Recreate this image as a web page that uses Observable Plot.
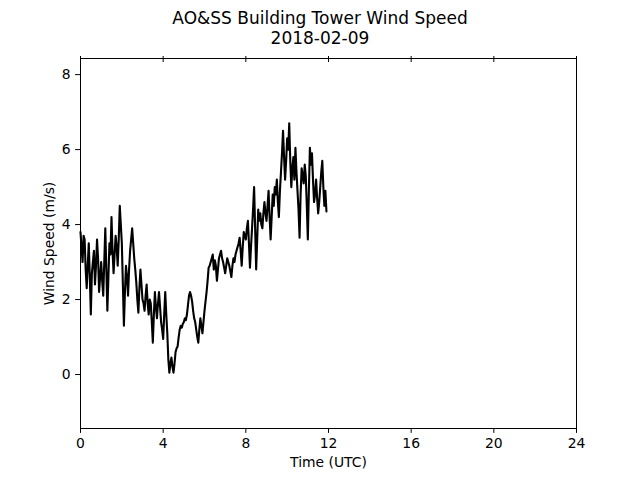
<!DOCTYPE html>
<html>
<head>
<meta charset="utf-8">
<script src="https://cdn.jsdelivr.net/npm/d3@7"></script>
<script src="https://cdn.jsdelivr.net/npm/@observablehq/plot@0.6"></script>
<style>
  html, body { margin: 0; padding: 0; background: #fff; }
  #title { width: 640px; height: 48px; font-family: "DejaVu Sans", sans-serif; font-size: 17px; text-align: center; line-height: 20px; padding-top: 8px; box-sizing: border-box; color: #000; }
  svg { display: block; }
</style>
</head>
<body>
<div id="title">AO&amp;SS Building Tower Wind Speed<br>2018-02-09</div>
<div id="chart"></div>
<script>
const titleLines = ["AO&SS Building Tower Wind Speed", "2018-02-09"];
const xLabel = "Time (UTC)";
const yLabel = "Wind Speed (m/s)";
const xTicks = [0, 4, 8, 12, 16, 20, 24];
const yTicks = [0, 2, 4, 6, 8];
const startHour = 0;
const stepHours = 0.05;
const windSpeed = [
  3.8, 3.4, 3.0, 3.7, 3.6, 2.8, 2.3, 2.9, 3.5, 2.6,
  1.6, 2.7, 3.0, 3.3, 2.4, 2.9, 3.6, 3.1, 2.2, 2.6,
  3.0, 2.5, 2.1, 3.0, 3.9, 2.8, 1.7, 2.6, 3.5, 3.2,
  4.2, 3.3, 2.7, 3.2, 3.7, 3.4, 2.9, 3.6, 4.5, 4.0,
  3.5, 2.4, 1.3, 2.2, 2.9, 2.6, 2.1, 2.8, 3.3, 3.6,
  3.9, 3.5, 3.1, 2.8, 2.45, 2.0, 1.65, 2.3, 2.8, 2.4,
  2.0, 1.9, 1.7, 2.1, 2.4, 1.9, 1.6, 2.0, 1.9, 1.4,
  0.85, 1.6, 2.2, 1.8, 1.5, 1.9, 2.2, 1.8, 1.4, 1.2,
  0.95, 1.6, 2.2, 1.6, 1.1, 0.4, 0.05, 0.3, 0.45, 0.2,
  0.05, 0.3, 0.6, 0.7, 0.75, 1.0, 1.2, 1.3, 1.25, 1.35,
  1.4, 1.5, 1.45, 1.6, 1.85, 2.1, 2.2, 2.1, 1.95, 1.7,
  1.5, 1.4, 1.2, 1.0, 0.85, 1.2, 1.5, 1.3, 1.1, 1.4,
  1.7, 1.95, 2.2, 2.5, 2.85, 2.9, 3.0, 3.1, 3.2, 2.8,
  3.05, 2.9, 2.5, 2.8, 3.1, 3.2, 3.3, 3.1, 3.0, 2.85,
  2.7, 2.9, 3.1, 3.0, 2.9, 2.75, 2.6, 2.9, 3.1, 3.0,
  3.2, 3.3, 3.4, 3.5, 3.65, 3.3, 2.9, 3.4, 3.8, 3.7,
  3.6, 3.9, 4.1, 3.5, 2.85, 3.4, 3.9, 4.4, 5.0, 3.9,
  2.8, 3.6, 4.4, 4.1, 4.3, 4.0, 3.9, 4.3, 4.6, 4.3,
  4.1, 4.5, 4.9, 4.2, 3.6, 4.2, 4.8, 4.5, 5.0, 4.8,
  5.2, 4.6, 4.2, 4.9, 5.4, 5.9, 6.5, 5.8, 5.2, 5.7,
  6.3, 6.0, 6.7, 5.7, 5.0, 5.5, 5.8, 5.2, 6.05, 5.4,
  4.9, 4.4, 3.65, 4.8, 5.5, 5.3, 5.1, 5.6, 5.3, 4.5,
  3.6, 4.9, 6.05, 5.6, 5.9, 5.2, 4.6, 4.8, 5.2, 4.7,
  4.3, 4.6, 5.0, 5.4, 5.7, 5.0, 4.5, 4.9, 4.35
];
const data = windSpeed.map((v, i) => ({hour: startHour + i * stepHours, speed: v}));

const chart = Plot.plot({
  width: 640,
  height: 432,
  marginLeft: 80,
  marginRight: 64,
  marginTop: 10,
  marginBottom: 52,
  style: {fontFamily: "DejaVu Sans, sans-serif", fontSize: "13.9px", color: "#000", background: "#fff"},
  x: {domain: [0, 24]},
  y: {domain: [-1.44, 8.43]},
  marks: [
    Plot.frame({stroke: "#000", strokeWidth: 1}),
    Plot.axisX(xTicks, {anchor: "bottom", tickSize: 4.9, tickPadding: 4.9, label: xLabel, labelAnchor: "center", labelArrow: "none", labelOffset: 38, stroke: "#000", fill: "#000"}),
    Plot.axisX(xTicks, {anchor: "top", tickSize: 3, tickFormat: () => "", label: null, stroke: "#000"}),
    Plot.axisX(xTicks, {anchor: "top", tickSize: -3, tickFormat: () => "", label: null, stroke: "#000"}),
    Plot.axisY(yTicks, {anchor: "left", tickSize: 4.9, tickPadding: 4.9, label: yLabel, labelAnchor: "center", labelArrow: "none", labelOffset: 36, stroke: "#000", fill: "#000"}),
    Plot.line(data, {x: "hour", y: "speed", stroke: "#000", strokeWidth: 2.1})
  ]
});
document.getElementById("chart").appendChild(chart);
</script>
</body>
</html>
